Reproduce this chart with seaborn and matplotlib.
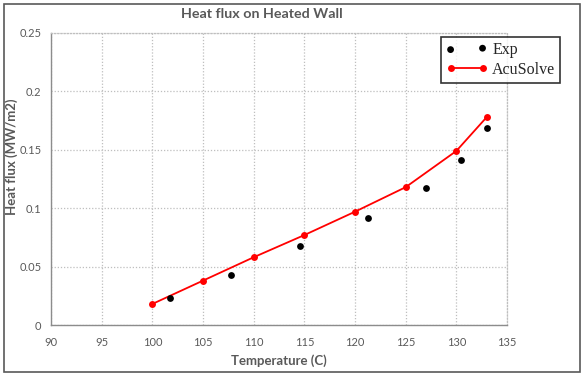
import matplotlib
matplotlib.use("Agg")
import matplotlib.pyplot as plt
import seaborn as sns
import pandas as pd
from matplotlib.patches import Rectangle

acu_temp = [100, 105, 110, 115, 120, 125, 130, 133]
acu_flux = [0.018, 0.038, 0.058, 0.077, 0.097, 0.118, 0.149, 0.178]
exp_temp = [101.7, 107.8, 114.6, 121.3, 127.0, 130.5, 133.0]
exp_flux = [0.023, 0.043, 0.068, 0.092, 0.117, 0.141, 0.169]
x_ticks = [90, 95, 100, 105, 110, 115, 120, 125, 130, 135]
y_ticks = [0, 0.05, 0.1, 0.15, 0.2, 0.25]
y_tick_labels = ["0", "0.05", "0.1", "0.15", "0.2", "0.25"]

sns.set_theme(style="white")
plt.rcParams["font.family"] = ["Lato", "DejaVu Sans"]

fig = plt.figure(figsize=(5.84, 3.77), dpi=100)
ax = fig.add_axes([51/584, 1-325/377, (507-51)/584, (325-33)/377])

acu = pd.DataFrame({"t": acu_temp, "q": acu_flux})
exp = pd.DataFrame({"t": exp_temp, "q": exp_flux})

sns.scatterplot(data=exp, x="t", y="q", ax=ax, color="black", s=24,
                edgecolor="black", linewidth=0, label="Exp", zorder=4)
sns.lineplot(data=acu, x="t", y="q", ax=ax, color="#ff0000", lw=1.3,
             marker="o", markersize=5, markeredgewidth=0, label="AcuSolve", zorder=3)

ax.set_xlim(90, 135)
ax.set_ylim(0, 0.25)
ax.set_xticks(x_ticks)
ax.set_yticks(y_ticks)
ax.set_yticklabels(y_tick_labels)
ax.grid(True, color="#bfbfbf", linestyle=(0, (1, 1.5)), linewidth=0.9)
ax.tick_params(axis="both", labelsize=8, colors="#595959", length=0)
ax.tick_params(axis="x", pad=9)
ax.tick_params(axis="y", pad=7)

for s in ["top", "right"]:
    ax.spines[s].set_linestyle((0, (1, 1.5)))
    ax.spines[s].set_color("#bfbfbf")
    ax.spines[s].set_linewidth(0.9)
for s in ["left", "bottom"]:
    ax.spines[s].set_color("#8c8c8c")
    ax.spines[s].set_linewidth(1.0)

ax.set_xlabel("")
ax.set_ylabel("")
fig.text(279/584, 1-361/377, "Temperature (C)", ha="center", va="center",
         fontsize=9.5, fontweight="bold", color="#595959")
fig.text(12/584, 1-157/377, "Heat flux (MW/m2)", rotation=90, ha="center", va="center",
         fontsize=9.5, fontweight="bold", color="#595959")
fig.text(262/584, 1-14/377, "Heat flux on Heated Wall", ha="center", va="center",
         fontsize=10.3, fontweight="bold", color="#595959")

leg = ax.legend(loc="upper left", bbox_to_anchor=(441/584, 1-37/377),
                bbox_transform=fig.transFigure, numpoints=2, scatterpoints=2,
                prop={"family": "Liberation Serif", "size": 11.5},
                frameon=True, fancybox=False, borderpad=0.3, handlelength=2.6,
                handletextpad=0.3, labelspacing=0.25, borderaxespad=0)
leg.get_frame().set_edgecolor("black")
leg.get_frame().set_linewidth(1.2)

fig.patches.append(Rectangle((4/584, 5/377), 576/584, 368/377, transform=fig.transFigure,
                             fill=False, edgecolor="#595959", linewidth=1.2))

fig.savefig("out.png", dpi=100)
